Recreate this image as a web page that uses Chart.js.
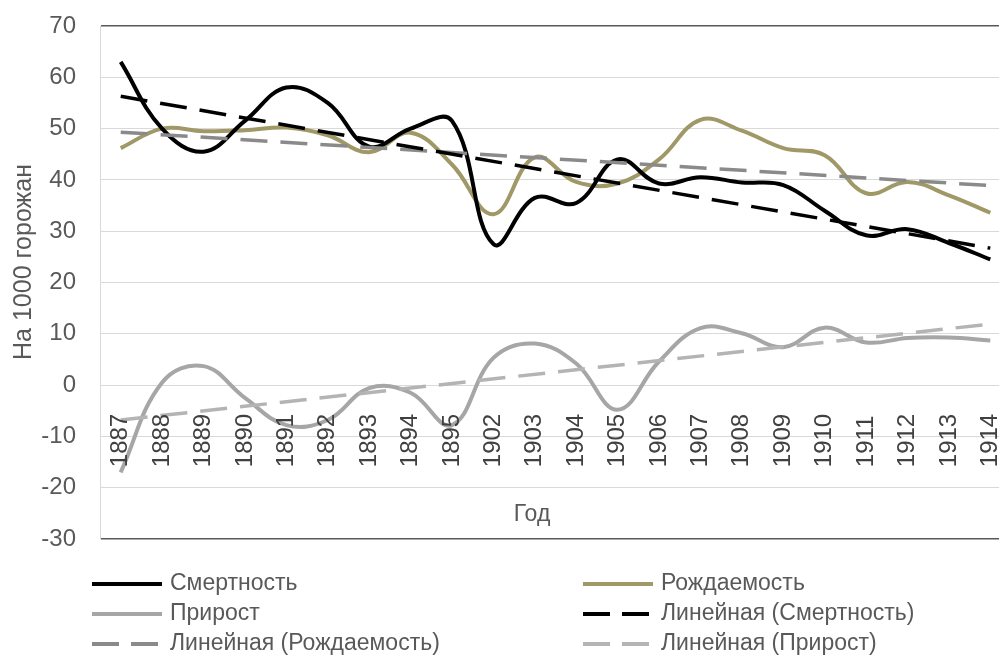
<!DOCTYPE html>
<html lang="ru">
<head>
<meta charset="utf-8">
<title>Смертность и рождаемость</title>
<script src="https://cdn.jsdelivr.net/npm/chart.js@4.4.1/dist/chart.umd.min.js"></script>
<style>
    html, body { margin: 0; padding: 0; background: #fff; overflow: hidden; }
    #wrap { width: 1011px; height: 664px; }
</style>
</head>
<body>
<div id="wrap"><canvas id="rateChart" width="1011" height="664"></canvas></div>
<script>
const years = ['1887', '1888', '1889', '1890', '1891', '1892', '1893', '1894', '1895',
    '1902', '1903', '1904', '1905', '1906', '1907', '1908', '1909', '1910', '1911', '1912', '1913', '1914'];

// на 1000 горожан
const mortality = [63, 50, 45.5, 51.5, 58, 55, 46.5, 50, 51.5, 27.5, 36.5, 35.5, 44, 39.3, 40.5, 39.5, 39, 34, 29.2, 30.4, 27.7, 24.5];
const births = [46.2, 50, 49.5, 49.7, 50.2, 48.7, 45.4, 49.2, 43, 33.3, 44.4, 39.6, 39.3, 44, 51.7, 49.6, 46.2, 44.8, 37.4, 39.6, 37, 33.6];
const growth = [-17, 0.5, 3.7, -2.5, -7.8, -6.8, -0.6, -1.5, -7.8, 5.3, 8.1, 4.2, -4.8, 4.6, 11.1, 10.1, 7.4, 11.2, 8.3, 9.2, 9.3, 8.7];

// линии тренда: значение в первом и последнем году
const mortalityTrend = [56.3, 26.7];
const birthsTrend = [49.3, 38.9];
const growthTrend = [-6.8, 11.9];

const yTicks = { min: -30, max: 70, step: 10 };

const FONT = '"Liberation Sans", Arial, sans-serif';

document.addEventListener('DOMContentLoaded', () => {
    renderChart();
});

function trendPoints(ends) {
    return [
        { x: years[0], y: ends[0] },
        { x: years[years.length - 1], y: ends[1] }
    ];
}

function solid(label, data, color) {
    return {
        label: label,
        data: data,
        borderColor: color,
        borderWidth: 4,
        tension: 0.4,
        pointRadius: 0,
        fill: false,
        order: 1
    };
}

function dashed(label, ends, color) {
    return {
        label: label,
        data: trendPoints(ends),
        borderColor: color,
        borderWidth: 3.5,
        borderDash: [27, 13],
        pointRadius: 0,
        fill: false,
        order: 0
    };
}

// подписи годов, оси и легенда рисуются поверх области графика
const decorPlugin = {
    id: 'decor',
    afterDraw(chart) {
        const { ctx } = chart;
        const xs = chart.scales.x;
        const ys = chart.scales.y;
        ctx.save();

        // годы, повернутые вертикально
        ctx.fillStyle = '#404040';
        ctx.font = '24px ' + FONT;
        ctx.textAlign = 'left';
        ctx.textBaseline = 'middle';
        years.forEach((y, i) => {
            ctx.save();
            ctx.translate(xs.getPixelForValue(i), ys.getPixelForValue(-16));
            ctx.rotate(-Math.PI / 2);
            ctx.fillText(y, 0, 0);
            ctx.restore();
        });

        // название горизонтальной оси
        ctx.fillStyle = '#595959';
        ctx.font = '23px ' + FONT;
        ctx.textAlign = 'center';
        ctx.fillText('Год', 532, ys.getPixelForValue(-25.3));

        // название вертикальной оси
        ctx.save();
        ctx.translate(24, 262);
        ctx.rotate(-Math.PI / 2);
        ctx.font = '25px ' + FONT;
        ctx.fillText('На 1000 горожан', 0, 0);
        ctx.restore();

        // легенда в две колонки
        const colX = [92, 583];
        const rowY = [584, 614, 644];
        ctx.font = '23px ' + FONT;
        ctx.textAlign = 'left';
        chart.data.datasets.forEach((ds, i) => {
            const x = colX[i % 2];
            const y = rowY[Math.floor(i / 2)];
            ctx.beginPath();
            ctx.strokeStyle = ds.borderColor;
            ctx.lineWidth = 4;
            ctx.setLineDash(ds.borderDash ? [27, 12] : []);
            ctx.moveTo(x, y);
            ctx.lineTo(x + 70, y);
            ctx.stroke();
            ctx.setLineDash([]);
            ctx.fillStyle = '#595959';
            ctx.fillText(ds.label, x + 78, y);
        });

        ctx.restore();
    }
};

function renderChart() {
    const ctx = document.getElementById('rateChart').getContext('2d');
    new Chart(ctx, {
        type: 'line',
        data: {
            labels: years,
            datasets: [
                solid('Смертность', mortality, '#000000'),
                solid('Рождаемость', births, '#a09866'),
                solid('Прирост', growth, '#a6a6a6'),
                dashed('Линейная (Смертность)', mortalityTrend, '#000000'),
                dashed('Линейная (Рождаемость)', birthsTrend, '#8a8a8a'),
                dashed('Линейная (Прирост)', growthTrend, '#b4b4b4')
            ]
        },
        options: {
            responsive: false,
            animation: false,
            layout: {
                padding: { top: 26, right: 0, bottom: 125, left: 0 }
            },
            plugins: {
                legend: { display: false },
                tooltip: { enabled: false }
            },
            scales: {
                x: {
                    type: 'category',
                    display: false,
                    offset: true
                },
                y: {
                    min: yTicks.min,
                    max: yTicks.max,
                    afterFit(scale) {
                        // фиксированная ширина оси, без лишнего отступа сверху
                        scale.width = 100;
                        scale.paddingTop = 0;
                        scale.paddingBottom = 0;
                    },
                    ticks: {
                        stepSize: yTicks.step,
                        padding: 24,
                        color: '#595959',
                        font: { family: FONT, size: 24 }
                    },
                    grid: {
                        drawTicks: false,
                        color: c => (c.tick && (c.tick.value === yTicks.max || c.tick.value === yTicks.min)) ? '#595959' : '#d9d9d9',
                        lineWidth: c => (c.tick && (c.tick.value === yTicks.max || c.tick.value === yTicks.min)) ? 1.5 : 1
                    },
                    border: { color: '#d9d9d9' }
                }
            }
        },
        plugins: [decorPlugin]
    });
}
</script>
</body>
</html>
